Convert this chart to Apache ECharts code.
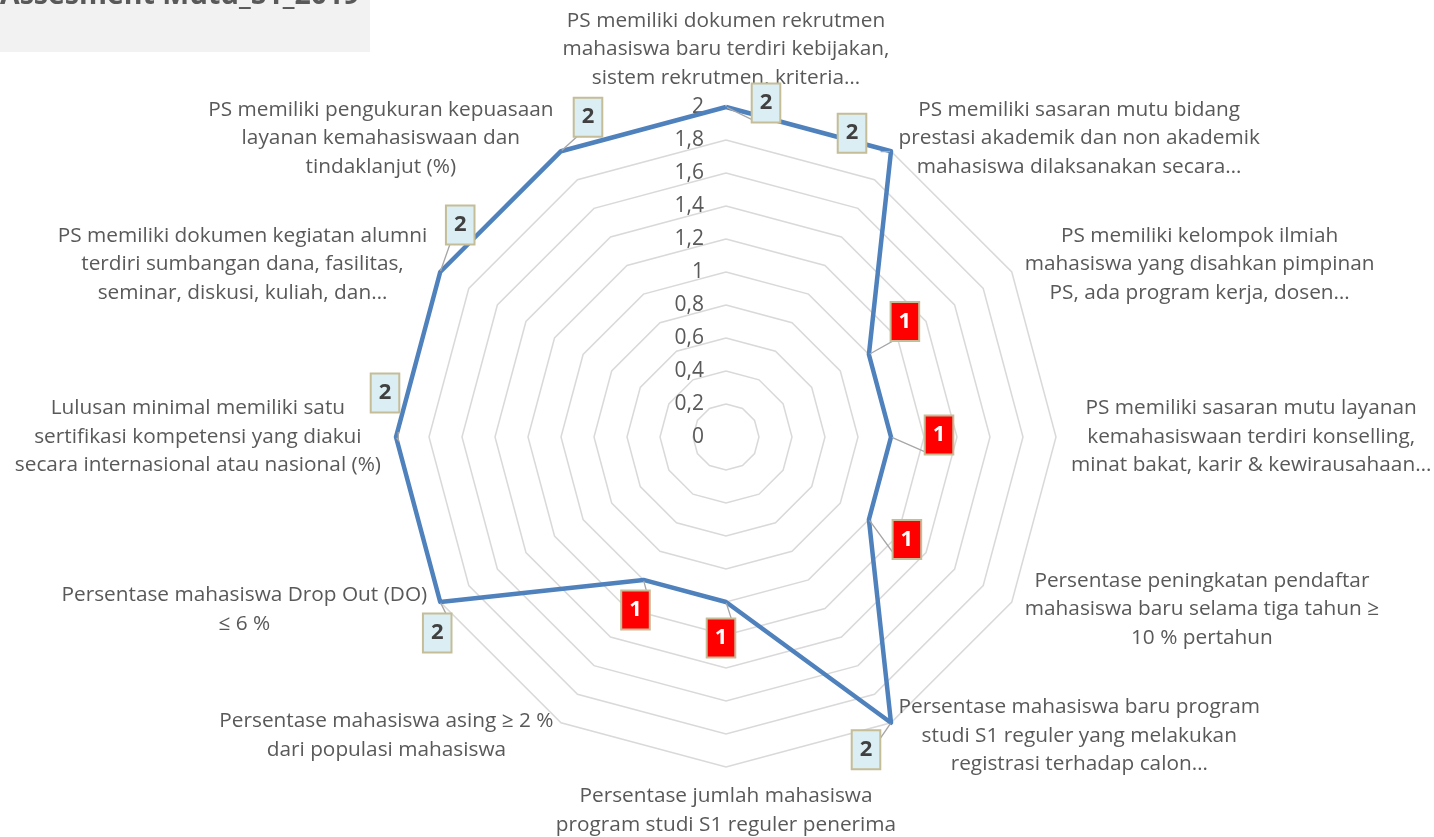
<!DOCTYPE html>
<html>
<head>
<meta charset="utf-8">
<title>Assesment Mutu_S1_2019</title>
<script src="https://cdn.jsdelivr.net/npm/echarts@6/dist/echarts.min.js"></script>
<style>
html, body { margin: 0; padding: 0; background: #fff; }
#main { width: 1434px; height: 837px; }
</style>
</head>
<body>
<div id="main"></div>
<script>
var titleText = 'Assesment Mutu_S1_2019';

// indicators, clockwise from the top
var indicators = [
  'PS memiliki dokumen rekrutmen\nmahasiswa baru terdiri kebijakan,\nsistem rekrutmen, kriteria…',
  'PS memiliki sasaran mutu bidang\nprestasi akademik dan non akademik\nmahasiswa dilaksanakan secara…',
  'PS memiliki kelompok ilmiah\nmahasiswa yang disahkan pimpinan\nPS, ada program kerja, dosen…',
  'PS memiliki sasaran mutu layanan\nkemahasiswaan terdiri konselling,\nminat bakat, karir & kewirausahaan…',
  'Persentase peningkatan pendaftar\nmahasiswa baru selama tiga tahun ≥\n10 % pertahun',
  'Persentase mahasiswa baru program\nstudi S1 reguler yang melakukan\nregistrasi terhadap calon…',
  'Persentase jumlah mahasiswa\nprogram studi S1 reguler penerima',
  'Persentase mahasiswa asing ≥ 2 %\ndari populasi mahasiswa',
  'Persentase mahasiswa Drop Out (DO)\n≤ 6 %',
  'Lulusan minimal memiliki satu\nsertifikasi kompetensi yang diakui\nsecara internasional atau nasional (%)',
  'PS memiliki dokumen kegiatan alumni\nterdiri sumbangan dana, fasilitas,\nseminar, diskusi, kuliah, dan…',
  'PS memiliki pengukuran kepuasaan\nlayanan kemahasiswaan dan\ntindaklanjut (%)'
];
var scores = [2, 2, 1, 1, 1, 2, 1, 1, 2, 2, 2, 2];
var scoreMin = 0;
var scoreMax = 2;
var splitCount = 10; // ticks 0 .. 2 step 0,2

// where each value box sits relative to its point (px)
var labelOffsets = [[40, -4], [-39, -18], [36, -33], [48, -2], [38, 20], [-25, 27],
                    [-5, 36], [-8, 30], [-3, 31], [-11, -44], [20, -47], [27, -34]];

var center = [726, 437];
var radius = 330;
var font = '"Open Sans", "Noto Sans", sans-serif';
var textColor = '#595959';
var nameSize = 20.8;

var boxStyles = {
  2: { color: '#404040', backgroundColor: '#DBEEF4', borderColor: '#C4BD97' },
  1: { color: '#ffffff', backgroundColor: '#FF0000', borderColor: '#C4BD97' }
};

// echarts radar runs anticlockwise, so feed it reversed to get clockwise order
var order = [0];
for (var k = indicators.length - 1; k > 0; k--) order.push(k);

var radarIndicators = order.map(function (i, n) {
  var o = { name: indicators[i], min: scoreMin, max: scoreMax };
  if (n === 0) o.axisLabel = { show: true };
  return o;
});
var radarValues = order.map(function (i) { return scores[i]; });

var labelData = scores.map(function (v, i) {
  var s = boxStyles[v];
  return {
    value: [v, i],
    label: {
      offset: labelOffsets[i],
      color: s.color,
      backgroundColor: s.backgroundColor,
      borderColor: s.borderColor
    }
  };
});

var chart = echarts.init(document.getElementById('main'));

var option = {
  animation: false,
  backgroundColor: '#ffffff',
  graphic: [
    { type: 'rect', x: 0, y: 0, shape: { width: 370, height: 52 }, style: { fill: '#F2F2F2' }, z: 0 },
    {
      type: 'text', x: 0, y: 10, z: 1,
      style: { text: titleText, fill: textColor, fontSize: 28.5, fontWeight: 'bold', fontFamily: font, verticalAlign: 'bottom' }
    }
  ],
  radar: {
    center: center,
    radius: radius,
    startAngle: 90,
    splitNumber: splitCount,
    shape: 'polygon',
    indicator: radarIndicators,
    nameGap: 15,
    axisName: {
      color: textColor,
      fontFamily: font,
      fontSize: nameSize,
      formatter: function (name) {
        return name.split('\n').map(function (l) { return '{c|' + l + '}'; }).join('\n');
      },
      rich: {
        c: { align: 'center', fontSize: nameSize, lineHeight: 28.5, color: textColor, fontFamily: font }
      }
    },
    axisLine: { show: false },
    axisTick: { show: false },
    axisLabel: {
      show: false,
      color: textColor,
      fontSize: 21,
      fontFamily: font,
      margin: 22,
      formatter: function (v) { return String(+(+v).toFixed(1)).replace('.', ','); }
    },
    splitLine: { lineStyle: { color: '#D9D9D9', width: 1.5 } },
    splitArea: { show: false }
  },
  polar: { center: center, radius: radius },
  angleAxis: { type: 'value', min: 0, max: indicators.length, startAngle: 90, clockwise: true, show: false },
  radiusAxis: { type: 'value', min: scoreMin, max: scoreMax, show: false },
  series: [
    {
      name: 'Skor',
      type: 'radar',
      symbol: 'none',
      silent: true,
      lineStyle: { color: '#4F81BD', width: 4.5 },
      data: [{ value: radarValues }]
    },
    {
      name: 'Label',
      type: 'scatter',
      coordinateSystem: 'polar',
      symbolSize: 2,
      silent: true,
      z: 5,
      itemStyle: { color: 'rgba(0,0,0,0)', opacity: 1 },
      label: {
        show: true,
        position: 'inside',
        opacity: 1,
        formatter: function (p) { return p.value[0]; },
        fontSize: 22,
        fontWeight: 'bold',
        fontFamily: font,
        lineHeight: 22,
        padding: [8, 7, 7, 7],
        borderWidth: 2
      },
      labelLine: { show: true, length2: 8, lineStyle: { color: '#A6A6A6', width: 1.3, opacity: 1 } },
      data: labelData
    }
  ]
};
chart.setOption(option);
</script>
</body>
</html>
